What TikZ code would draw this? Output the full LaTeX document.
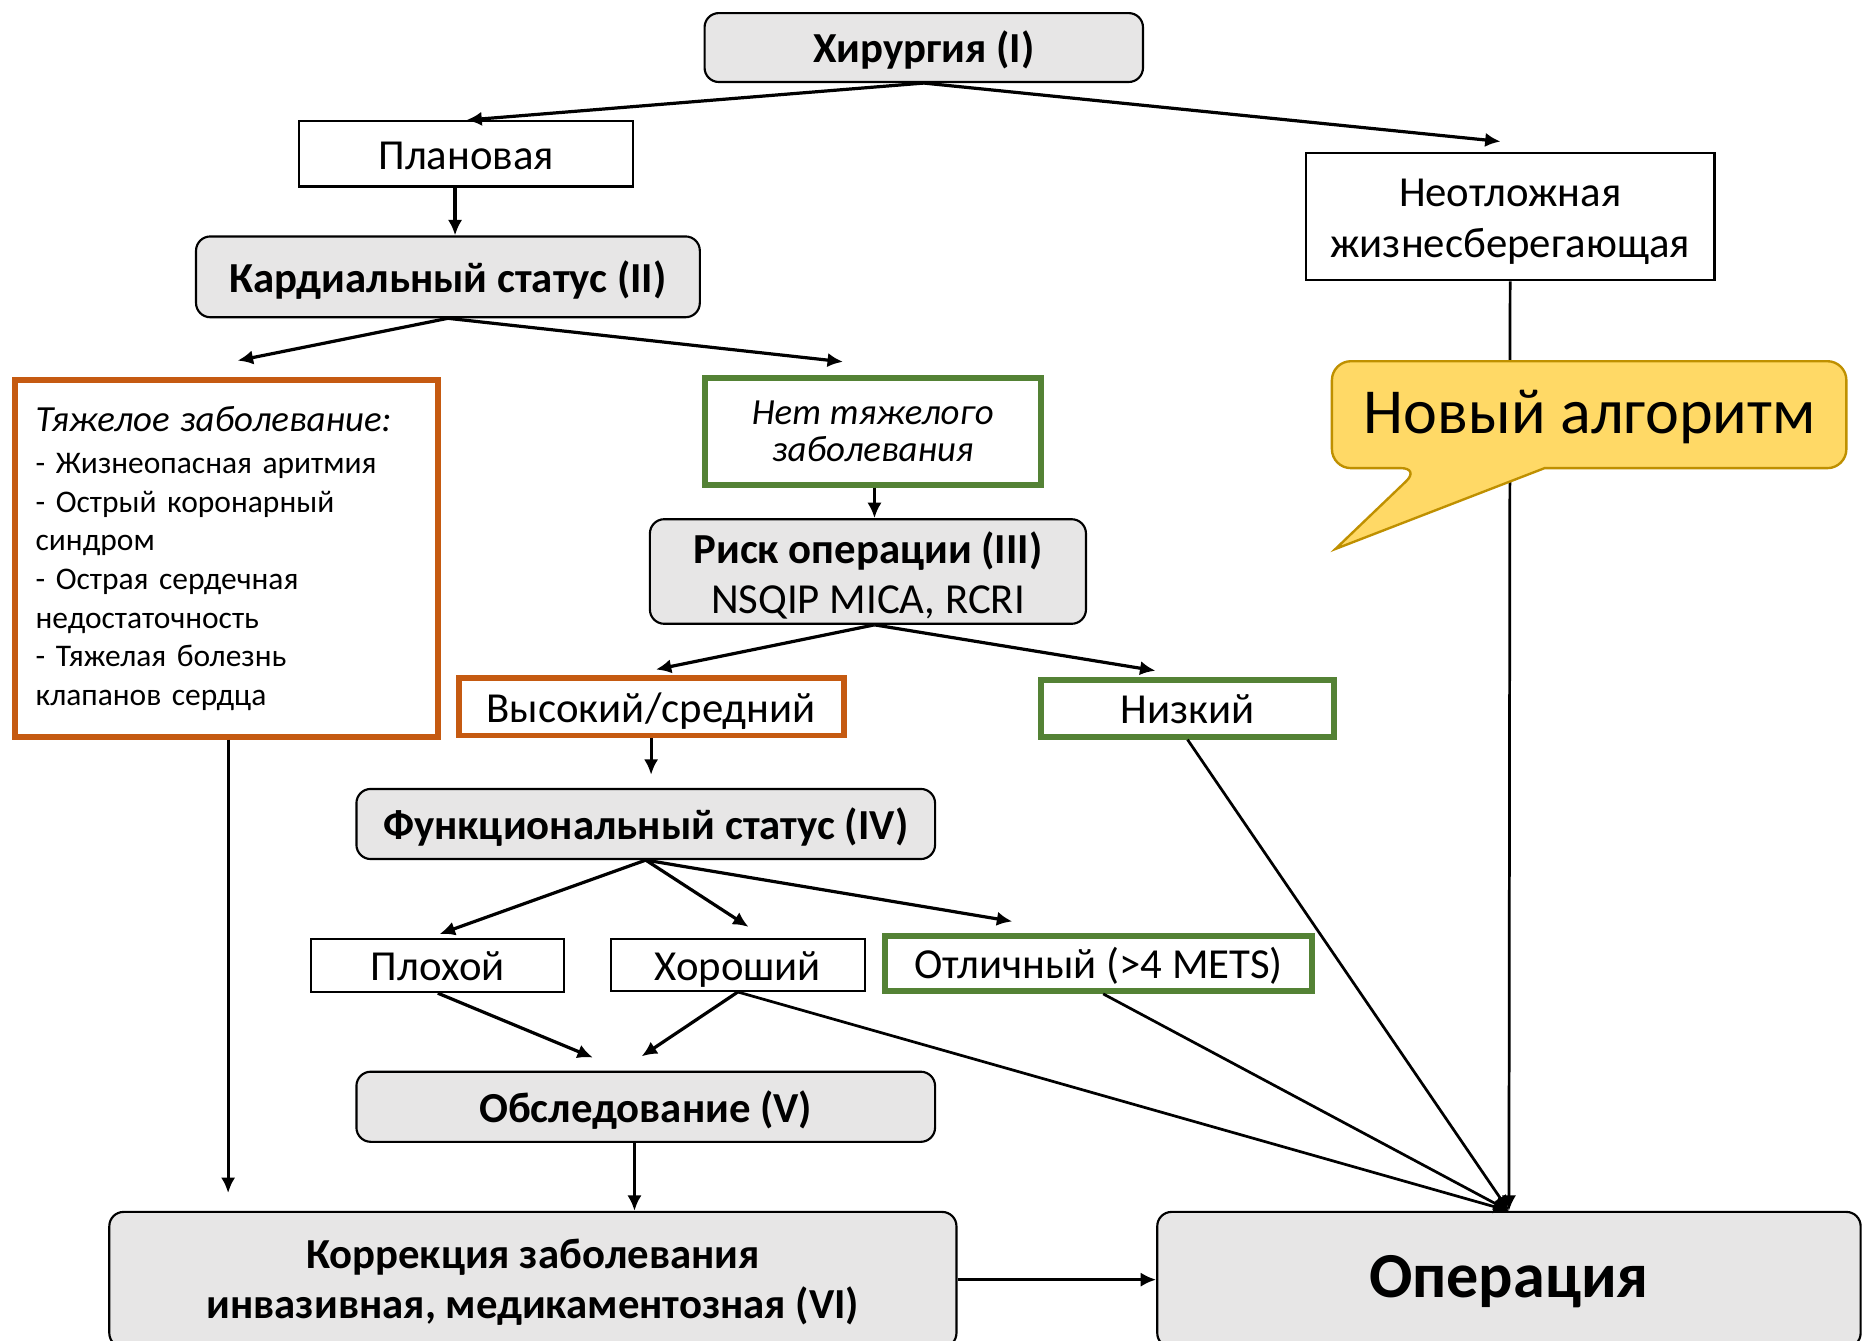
\documentclass[tikz,border=0pt]{standalone}
\usepackage{fontspec}
\setmainfont{Carlito}
\usetikzlibrary{arrows.meta,calc}
\definecolor{boxgray}{HTML}{E7E6E6}
\definecolor{orangec}{HTML}{C55A11}
\definecolor{greenc}{HTML}{548235}
\definecolor{calloutfill}{HTML}{FFD966}
\definecolor{calloutdraw}{HTML}{BF9000}
\tikzset{
  gbox/.style={draw=black, fill=boxgray, rounded corners=12, line width=1.8, align=center, inner sep=0,
    font=\bfseries\fontsize{36}{42}\selectfont},
  wbox/.style={draw=black, fill=white, line width=1.8, align=center, inner sep=0,
    font=\fontsize{36}{43}\selectfont},
  obox/.style={draw=orangec, fill=white, line width=5, align=center, inner sep=0,
    font=\fontsize{36}{40}\selectfont},
  grbox/.style={draw=greenc, fill=white, line width=5, align=center, inner sep=0,
    font=\fontsize{36}{40}\selectfont},
  single/.style={text height=34pt, text depth=8.3pt},
  txt/.style={inner sep=0, align=center},
  arr/.style={-{Latex[length=13pt,width=12pt]}, line width=2.7},
  thinarr/.style={-{Latex[length=13pt,width=12pt]}, line width=2.3},
}
\begin{document}
\begin{tikzpicture}[x=1pt,y=-1pt]
\useasboundingbox (0,0) rectangle (1568,1128);
\fill[white] (0,0) rectangle (1568,1128);

% nodes
\node[gbox, single, minimum width=369, minimum height=58] (hir) at (777.5,40) {Хирургия (I)};
\node[wbox, single, minimum width=281, minimum height=55] (plan) at (392.5,129.5) {Плановая};
\node[wbox, minimum width=344, minimum height=107] (neot) at (1271,182.5) {};
\node[txt, font=\fontsize{36}{43}\selectfont] (neottxt) at (1271,186.5) {Неотложная\\жизнесберегающая};
\node[gbox, single, minimum width=424, minimum height=68] (kard) at (377,233) {Кардиальный статус (II)};
\node[obox, minimum width=356, minimum height=300, align=left, text width=322, font=\fontsize{26.5}{32.5}\selectfont] (tyazh) at (191,470)
  {{\itshape\fontsize{31}{32.5}\selectfont Тяжелое заболевание:}\\[3pt]
   - Жизнеопасная аритмия\\
   - Острый коронарный\\
   синдром\\
   - Острая сердечная\\
   недостаточность\\
   - Тяжелая болезнь\\
   клапанов сердца};
\node[grbox, minimum width=283, minimum height=90, font=\itshape\fontsize{31}{31}\selectfont] (net) at (734.5,363) {Нет тяжелого\\заболевания};
\node[gbox, minimum width=367, minimum height=88] (risk) at (730.5,481) {};
\node[txt, font=\bfseries\fontsize{36}{42}\selectfont] (risktxt) at (730.5,484) {Риск операции (III)\\{\mdseries NSQIP MICA, RCRI}};
\node[obox, single, minimum width=324, minimum height=48] (vys) at (548,595) {Высокий/средний};
\node[grbox, single, minimum width=247, minimum height=48] (nizk) at (999.5,596) {Низкий};
\node[gbox, single, minimum width=487, minimum height=59] (func) at (543.5,693.5) {Функциональный статус (IV)};
\node[wbox, single, minimum width=213, minimum height=45] (plox) at (368.5,812.5) {Плохой};
\node[wbox, single, minimum width=214, minimum height=44] (xor) at (621,812) {Хороший};
\node[grbox, single, minimum width=359, minimum height=46] (otl) at (924.5,811) {Отличный (>4 METS)};
\node[gbox, single, minimum width=487, minimum height=59] (obsl) at (543.5,931.5) {Обследование (V)};
\node[gbox, minimum width=713, minimum height=114] (korr) at (448.5,1077) {};
\node[txt, font=\bfseries\fontsize{36}{42}\selectfont] (korrtxt) at (448.5,1079) {Коррекция заболевания\\инвазивная, медикаментозная (VI)};
\node[gbox, text height=51pt, text depth=20.5pt, minimum width=592, minimum height=114, font=\bfseries\fontsize{54}{60}\selectfont] (oper) at (1270,1077) {Операция};

% connectors
\draw[arr] (hir.south) -- (plan.north);
\draw[arr] (hir.south) -- ($(neot.north)+(-8,-9)$);
\draw[arr] ($(plan.south)+(-9.5,0)$) -- ($(kard.north)+(6,0)$);
\draw[arr] (kard.south) -- ($(tyazh.north)+(9,-14)$);
\draw[arr] (kard.south) -- ($(net.north)+(-25,-11)$);
\draw[arr] ($(net.south)+(1.5,0)$) -- ($(risk.north)+(5.5,0)$);
\draw[arr] ($(risk.south)+(5.5,0)$) -- ($(vys.north)+(4,-5)$);
\draw[arr] ($(risk.south)+(5.5,0)$) -- ($(nizk.north)+(-27,-5)$);
\draw[arr] (vys.south) -- ($(func.north)+(4.5,-11)$);
\draw[arr] (func.south) -- ($(plox.north)+(1.5,-3)$);
\draw[arr] (func.south) -- ($(xor.north)+(9,-9)$);
\draw[arr] (func.south) -- ($(otl.north)+(-72.5,-10)$);
\draw[arr] (plox.south) -- ($(obsl.north)+(-44.5,-11)$);
\draw[arr] (xor.south) -- ($(obsl.north)+(-3.5,-12)$);
\draw[thinarr] (xor.south) -- (oper.north);
\draw[thinarr] ($(otl.south)+(4,0)$) -- (oper.north);
\draw[thinarr] (nizk.south) -- (oper.north);
\draw[thinarr] (neot.south) -- (oper.north);
\draw[arr] ($(tyazh.south)+(1,0)$) -- ($(korr.north)+(-256.5,-15)$);
\draw[arr] ($(obsl.south)+(-9.5,0)$) -- ($(korr.north)+(85.5,0)$);
\draw[arr] (korr.east) -- (oper.west);

% callout
\path[draw=calloutdraw, fill=calloutfill, line width=2]
  (1300,394) [rounded corners=16] -- (1554,394) -- (1554,304) -- (1121,304) -- (1121,394) -- (1195,394)
  [sharp corners] -- (1124,462) -- cycle;
\node[font=\fontsize{54}{60}\selectfont, inner sep=0] (novy) at (1338,351) {Новый алгоритм};
\end{tikzpicture}
\end{document}
